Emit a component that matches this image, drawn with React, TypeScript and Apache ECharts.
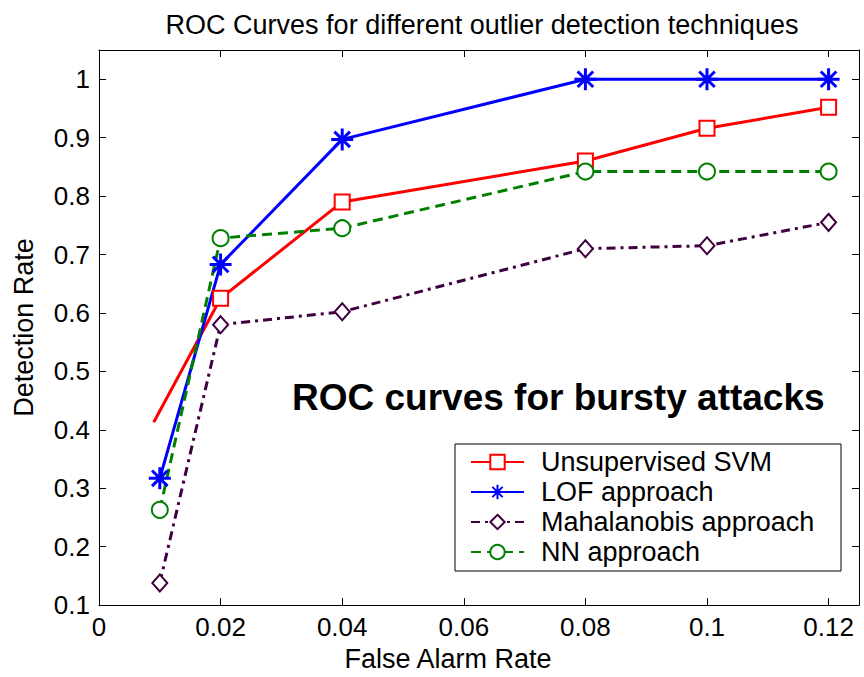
import React, { useEffect, useRef } from "react";
import * as echarts from "echarts";

const FONT = "'Liberation Sans', Arial, Helvetica, sans-serif";

const titleText = "ROC Curves for different outlier detection techniques";
const annotationText = "ROC curves for bursty attacks";
const xName = "False Alarm Rate";
const yName = "Detection Rate";

const seriesNames = ["Unsupervised SVM", "LOF approach", "Mahalanobis approach", "NN approach"];

const fpr = [0.01, 0.02, 0.04, 0.08, 0.1, 0.12];
const svmFpr = [0.009, 0.02, 0.04, 0.08, 0.1, 0.12];
const svmTpr = [0.413, 0.625, 0.79, 0.86, 0.916, 0.952];
const lofTpr = [0.317, 0.683, 0.897, 1.0, 1.0, 1.0];
const mahaTpr = [0.138, 0.58, 0.602, 0.71, 0.715, 0.755];
const nnTpr = [0.263, 0.728, 0.745, 0.842, 0.842, 0.842];

const xMin = 0;
const xMax = 0.125;
const xStep = 0.02;
const yMin = 0.1;
const yMax = 1.05;
const yStep = 0.1;

const STAR = "path://M0,-10L0,10M-10,0L10,0M-7.07,-7.07L7.07,7.07M-7.07,7.07L7.07,-7.07";

function fmt(step: number) {
  return (v: number) => {
    const r = Math.round(v / step) * step;
    if (Math.abs(r - v) > 1e-9) return "";
    return String(parseFloat(v.toFixed(3)));
  };
}

export default function App() {
  const ref = useRef<HTMLDivElement>(null);
  useEffect(() => {
    if (!ref.current) return;
    const chart = echarts.init(ref.current, null, { renderer: "svg" });
    const lw = 3;
    const axisCommon = {
      axisLine: { show: true, onZero: false, lineStyle: { color: "#000", width: 1 } },
      axisTick: { show: true, inside: true, length: 7, lineStyle: { color: "#000", width: 1 } },
      splitLine: { show: false },
    };
    const option: any = {
      animation: false,
      backgroundColor: "#fff",
      grid: { left: 99, right: 5, top: 50, bottom: 64, containLabel: false },
      title: {
        text: titleText,
        left: 477,
        top: 6,
        textAlign: "center",
        textStyle: { fontFamily: FONT, fontSize: 27, fontWeight: "normal", color: "#000" },
      },
      xAxis: [
        {
          type: "value",
          min: xMin,
          max: xMax,
          interval: xStep,
          position: "bottom",
          ...axisCommon,
          axisLabel: {
            formatter: fmt(xStep),
            fontFamily: FONT,
            fontSize: 26,
            color: "#000",
            margin: 9,
            showMaxLabel: true,
          },
          name: xName,
          nameLocation: "middle",
          nameGap: 37,
          nameTextStyle: { fontFamily: FONT, fontSize: 27, color: "#000", padding: [0, 62, 0, 0] },
        },
        {
          type: "value",
          min: xMin,
          max: xMax,
          interval: xStep,
          position: "top",
          ...axisCommon,
          axisLabel: { show: false },
        },
      ],
      yAxis: [
        {
          type: "value",
          min: yMin,
          max: yMax,
          interval: yStep,
          position: "left",
          ...axisCommon,
          axisLabel: {
            formatter: fmt(yStep),
            fontFamily: FONT,
            fontSize: 26,
            color: "#000",
            margin: 9,
          },
          name: yName,
          nameLocation: "middle",
          nameGap: 62,
          nameTextStyle: { fontFamily: FONT, fontSize: 27, color: "#000" },
        },
        {
          type: "value",
          min: yMin,
          max: yMax,
          interval: yStep,
          position: "right",
          ...axisCommon,
          axisLabel: { show: false },
        },
      ],
      legend: {
        orient: "vertical",
        left: 470,
        top: 447,
        padding: 0,
        itemGap: 0,
        itemWidth: 53,
        itemHeight: 18,
        selectedMode: false,
        data: seriesNames,
        textStyle: {
          fontFamily: FONT,
          fontSize: 27,
          lineHeight: 30,
          color: "#000",
          padding: [0, 0, 0, 12],
        },
      },
      graphic: [
        {
          type: "rect",
          shape: { x: 455, y: 444, width: 386, height: 127 },
          style: { fill: "#fff", stroke: "#000", lineWidth: 1 },
          z: 0,
          zlevel: 0,
        },
        {
          type: "text",
          x: 292,
          y: 397,
          style: {
            text: annotationText,
            fontFamily: FONT,
            fontSize: 37,
            fontWeight: "bold",
            fill: "#000",
            textAlign: "left",
            textVerticalAlign: "middle",
          },
        },
      ],
      series: [
        {
          name: seriesNames[0],
          type: "line",
          data: svmFpr.map((x, i) =>
            i === 0 ? { value: [x, svmTpr[i]], symbol: "none" } : [x, svmTpr[i]]
          ),
          symbol: "emptyRect",
          symbolSize: 15,
          color: "#ff0000",
          lineStyle: { color: "#ff0000", width: lw, type: "solid" },
          itemStyle: { color: "#ff0000", borderColor: "#ff0000", borderWidth: lw },
          z: 3,
        },
        {
          name: seriesNames[1],
          type: "line",
          data: fpr.map((x, i) => [x, lofTpr[i]]),
          symbol: STAR,
          symbolSize: 22,
          color: "#0000ff",
          lineStyle: { color: "#0000ff", width: lw, type: "solid" },
          itemStyle: { color: "#0000ff", borderColor: "#0000ff", borderWidth: 3 },
          z: 3,
        },
        {
          name: seriesNames[2],
          type: "line",
          data: fpr.map((x, i) => [x, mahaTpr[i]]),
          symbol: "emptyDiamond",
          symbolSize: [15, 17],
          color: "#400040",
          lineStyle: { color: "#400040", width: lw, type: [9, 5, 3, 5] },
          itemStyle: { color: "#400040", borderColor: "#400040", borderWidth: lw },
          z: 3,
        },
        {
          name: seriesNames[3],
          type: "line",
          data: fpr.map((x, i) => [x, nnTpr[i]]),
          symbol: "emptyCircle",
          symbolSize: 16,
          color: "#008000",
          lineStyle: { color: "#008000", width: lw, type: [10, 6] },
          itemStyle: { color: "#008000", borderColor: "#008000", borderWidth: lw },
          z: 3,
        },
      ],
    };
    chart.setOption(option);
    return () => chart.dispose();
  }, []);
  return (
    <div
      ref={ref}
      style={{ position: "fixed", left: 0, top: 0, width: 864, height: 677, background: "#fff" }}
    />
  );
}
